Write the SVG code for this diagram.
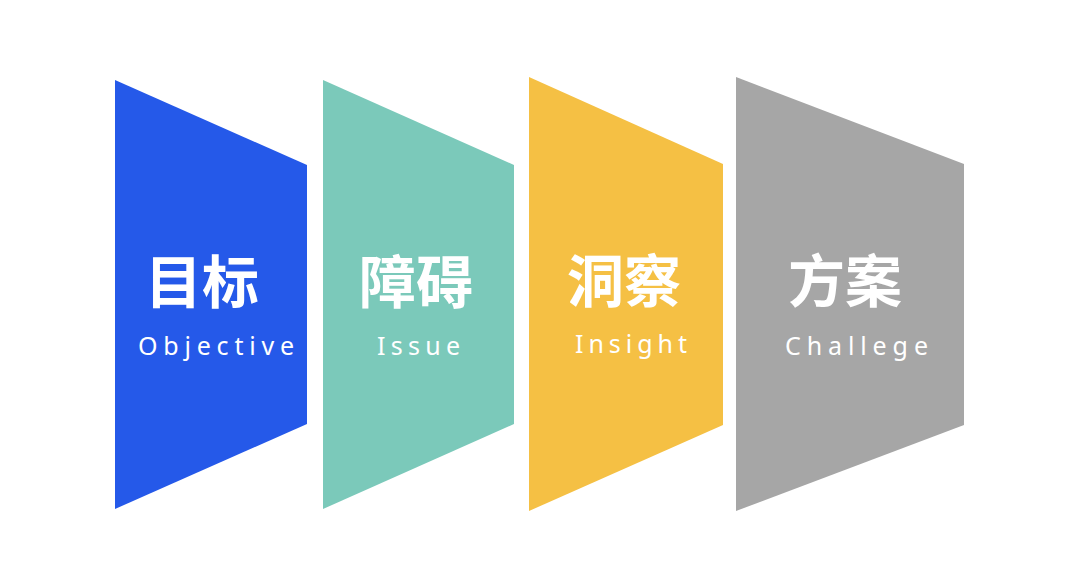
<svg xmlns="http://www.w3.org/2000/svg" width="1080" height="581" viewBox="0 0 1080 581">
<style>
.cn{font-family:"Noto Sans CJK SC","Noto Sans",sans-serif;font-weight:700;font-size:57px;fill:#fff}
.en{font-family:"Noto Sans","Liberation Sans",sans-serif;font-size:25px;fill:#fff}
</style>
<rect width="1080" height="581" fill="#fff"/>
<g id="objective">
<polygon points="115,80 307,165 307,424 115,509" fill="#2559E9"/>
<text class="cn" x="202" y="303" text-anchor="middle">目标</text>
<text class="en" x="138" y="355" textLength="156" lengthAdjust="spacing">Objective</text>
</g>
<g id="issue">
<polygon points="323,80 514,165 514,424 323,509" fill="#7BC9BA"/>
<text class="cn" x="416" y="303" text-anchor="middle">障碍</text>
<text class="en" x="377" y="355" textLength="83" lengthAdjust="spacing">Issue</text>
</g>
<g id="insight">
<polygon points="529,77 723,164 723,425 529,511" fill="#F5C044"/>
<text class="cn" x="624" y="302" text-anchor="middle">洞察</text>
<text class="en" x="575" y="353" textLength="112" lengthAdjust="spacing">Insight</text>
</g>
<g id="challenge">
<polygon points="736,77 964,164 964,425 736,511" fill="#A6A6A6"/>
<text class="cn" x="845" y="302" text-anchor="middle">方案</text>
<text class="en" x="785" y="355" textLength="143" lengthAdjust="spacing">Challege</text>
</g>
<g id="connectors"/>
</svg>
